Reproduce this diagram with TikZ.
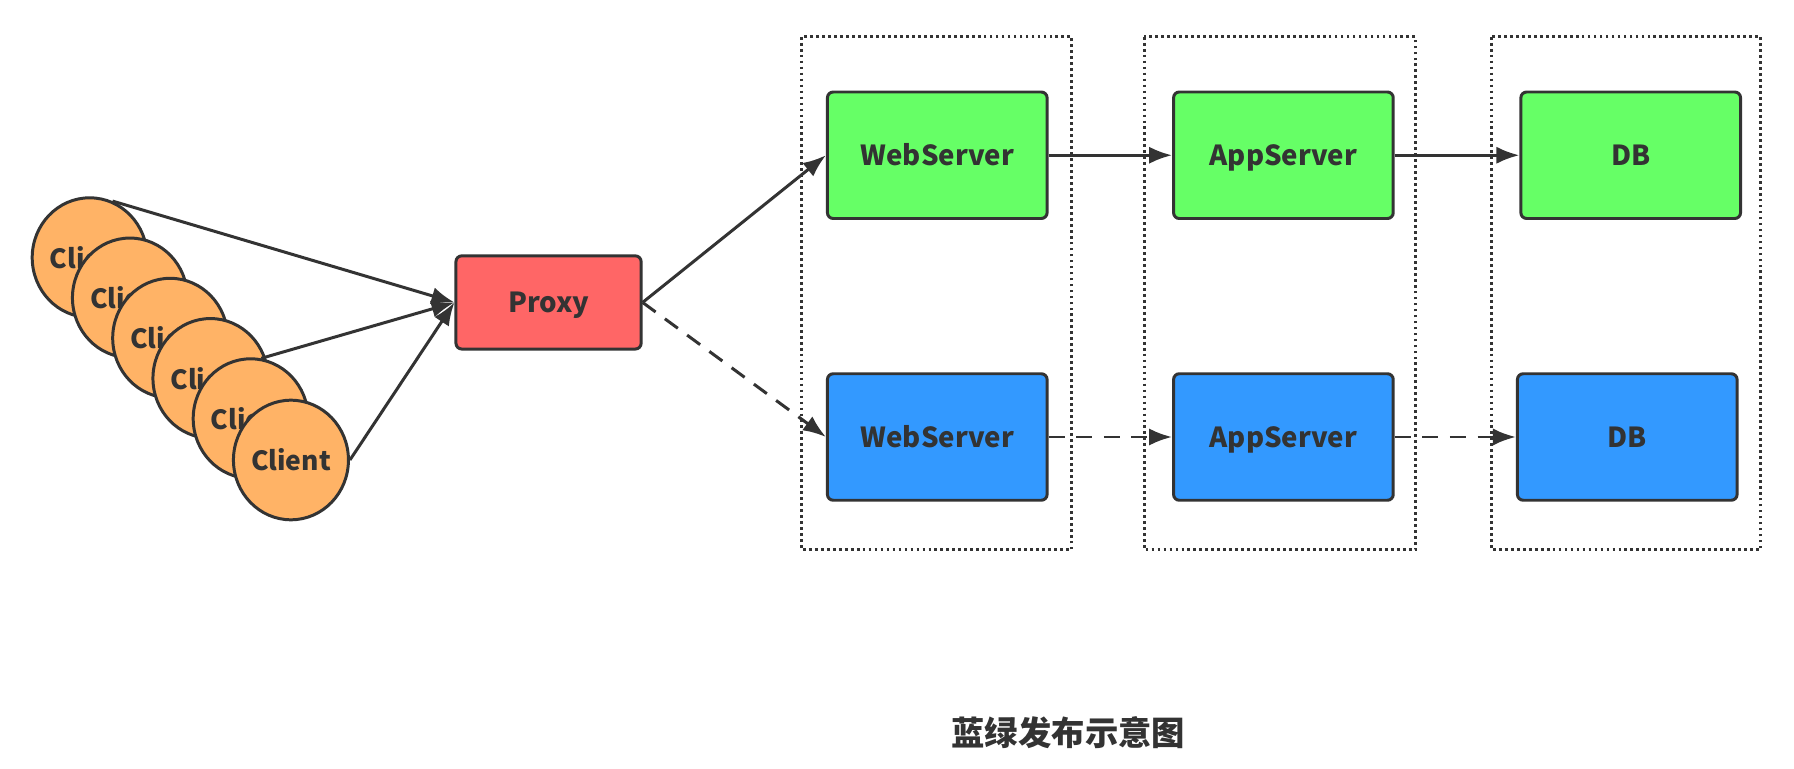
\documentclass[tikz,border=0pt]{standalone}
\usepackage{fontspec}
\setmainfont{Noto Sans CJK SC}
\usetikzlibrary{shapes.geometric,arrows.meta}
\definecolor{ink}{HTML}{333333}
\definecolor{clientfill}{HTML}{FFB366}
\definecolor{proxyfill}{HTML}{FF6666}
\definecolor{greenfill}{HTML}{66FF66}
\definecolor{bluefill}{HTML}{3399FF}
\begin{document}
\begin{tikzpicture}[x=0.5pt,y=-0.5pt]
        \tikzset{box/.style={draw=ink,line width=1.3pt,rounded corners=2.5pt,minimum width=95.5pt,minimum height=55pt,text=ink,text height=8.7pt,text depth=0pt,font=\bfseries\fontsize{12}{14}\selectfont},
                 client/.style={ellipse,draw=ink,fill=clientfill,line width=1.3pt,minimum width=50pt,minimum height=52pt,inner sep=0pt,text=ink,font=\bfseries\fontsize{11.5}{13}\selectfont},
                 link/.style={draw=ink,line width=1.3pt,-{Latex[length=10pt,width=7.5pt]}},
                 tier/.style={draw=ink,line width=1.2pt,dash pattern=on 1.2pt off 1.4pt}};
        \useasboundingbox[fill=white] (0,0) rectangle (1560,668);
        % dotted groups
        \draw[tier] (697,32) rectangle (932,478);
        \draw[tier] (995,32) rectangle (1231,478);
        \draw[tier] (1297,32) rectangle (1531,478);
        % clients
        \foreach \i/\x/\y in {1/78/224,2/113/259,3/148/294,4/183/329,5/218/364,6/253/400}
            \node[client] (c\i) at (\x,\y) {Client};
        \node[box,fill=proxyfill,minimum width=80.5pt,minimum height=40.5pt] (proxy) at (477,263) {Proxy};
        % green
        \node[box,fill=greenfill] (web1) at (815,135) {WebServer};
        \node[box,fill=greenfill] (app1) at (1116,135) {AppServer};
        \node[box,fill=greenfill] (db1) at (1418,135) {DB};
        % blue
        \node[box,fill=bluefill] (web2) at (815,380) {WebServer};
        \node[box,fill=bluefill] (app2) at (1116,380) {AppServer};
        \node[box,fill=bluefill] (db2) at (1415,380) {DB};
        \draw[link] (c1.68) -- (proxy.west);
        \draw[link] (c5.80) -- (proxy.west);
        \draw[link] (c6.east) -- (proxy.west);
        \draw[link] (proxy.east) -- (web1.west);
        \draw[link,dash pattern=on 7pt off 5pt] (proxy.east) -- (web2.west);
        \draw[link] (web1) -- (app1);
        \draw[link] (app1) -- (db1);
        \draw[link,dash pattern=on 7pt off 5pt] (web2) -- (app2);
        \draw[link,dash pattern=on 7pt off 5pt] (app2) -- (db2);
        \node[text=ink,font=\bfseries\fontsize{14.5}{17}\selectfont] (title) at (929,637) {蓝绿发布示意图};
\end{tikzpicture}
\end{document}
